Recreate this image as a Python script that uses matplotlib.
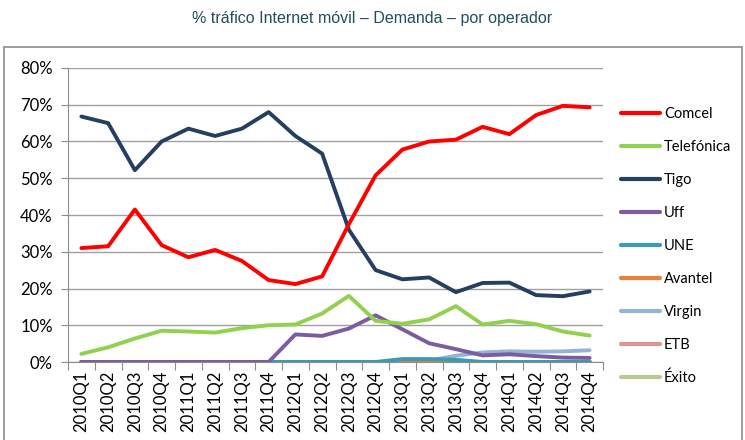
import numpy as np
import matplotlib
matplotlib.use('Agg')
from matplotlib import pyplot as plt
from matplotlib.patches import Rectangle
from matplotlib.ticker import FixedLocator, PercentFormatter

plt.rcParams['font.family'] = ['Lato', 'DejaVu Sans']

quarters = ['2010Q1', '2010Q2', '2010Q3', '2010Q4', '2011Q1', '2011Q2', '2011Q3', '2011Q4',
            '2012Q1', '2012Q2', '2012Q3', '2012Q4', '2013Q1', '2013Q2', '2013Q3', '2013Q4',
            '2014Q1', '2014Q2', '2014Q3', '2014Q4']

comcel = [31, 31.5, 41.5, 31.8, 28.5, 30.5, 27.5, 22.3, 21.2, 23.3,
          37.5, 50.8, 57.8, 60, 60.5, 64, 62, 67.2, 69.7, 69.3]
telefonica = [2.2, 4, 6.4, 8.5, 8.3, 8, 9.2, 10, 10.2, 13.2,
              18, 11.2, 10.4, 11.6, 15.2, 10.2, 11.2, 10.3, 8.3, 7.2]
tigo = [66.8, 65, 52.2, 60, 63.5, 61.5, 63.5, 68, 61.5, 56.7,
        36, 25, 22.5, 23, 19, 21.5, 21.6, 18.2, 17.9, 19.2]
uff = [0, 0, 0, 0, 0, 0, 0, 0, 7.5, 7.1,
       9.1, 12.7, 8.9, 5.1, 3.5, 1.8, 2.1, 1.6, 1.2, 1.1]
une = [0, 0, 0, 0, 0, 0, 0, 0, 0, 0,
       0, 0, 0.8, 0.8, 0.6, 0, 0, 0, 0, 0]
avantel = [0] * 20
virgin = [0, 0, 0, 0, 0, 0, 0, 0, 0, 0,
          0, 0, 0, 0.4, 1.7, 2.6, 2.9, 2.8, 2.9, 3.2]
etb = [0] * 20
exito = [0] * 20

series = [('Comcel', comcel, '#FF0000'),
          ('Telefónica', telefonica, '#92D050'),
          ('Tigo', tigo, '#243F60'),
          ('Uff', uff, '#7B5C9E'),
          ('UNE', une, '#3A9BB3'),
          ('Avantel', avantel, '#E8823A'),
          ('Virgin', virgin, '#95B3D7'),
          ('ETB', etb, '#D99694'),
          ('Éxito', exito, '#B5CC8E')]

fig = plt.figure(figsize=(7.45, 4.40), dpi=100)
fig.text(0.5, 0.958, '% tráfico Internet móvil – Demanda – por operador',
         ha='center', va='center', fontsize=11.5, color='#1F4F5F',
         family=['Liberation Sans', 'DejaVu Sans'])
fig.patches.append(Rectangle((4 / 745, -0.2), 738 / 745, 0.2 + 1 - 47 / 440,
                             transform=fig.transFigure, fill=False,
                             edgecolor='#8C8C8C', linewidth=1.2))

ax = fig.add_axes([68 / 745, 1 - 362 / 440, 535 / 745, 294 / 440])
x = np.arange(len(quarters))
# draw in reverse so Comcel ends up on top
for name, vals, col in reversed(series):
    ax.plot(x, vals, color=col, linewidth=2.8, label=name, solid_capstyle='round')

ax.set_xlim(-0.5, len(quarters) - 0.5)
ax.set_ylim(0, 80)
ax.yaxis.set_major_locator(FixedLocator(np.arange(0, 81, 10)))
ax.yaxis.set_major_formatter(PercentFormatter(decimals=0))
ax.grid(axis='y', color='#A0A0A0', linewidth=1)
ax.set_axisbelow(True)

ax.set_xticks(np.arange(-0.5, len(quarters), 1))
ax.set_xticklabels([])
ax.set_xticks(x, minor=True)
ax.set_xticklabels(quarters, minor=True, rotation=90, fontsize=12)
ax.tick_params(axis='x', which='minor', length=0, pad=6)
ax.tick_params(axis='x', which='major', length=6, color='#8C8C8C', direction='out')
ax.tick_params(axis='y', length=5, color='#8C8C8C', labelsize=12, pad=6)

for s in ['top', 'right']:
    ax.spines[s].set_visible(False)
for s in ['left', 'bottom']:
    ax.spines[s].set_color('#8C8C8C')

handles, labels = ax.get_legend_handles_labels()
leg = fig.legend(handles[::-1], labels[::-1], loc='upper left',
                 bbox_to_anchor=(621 / 745, 1 - 107 / 440), frameon=False,
                 fontsize=10.5, handlelength=2.7, handletextpad=0.25,
                 labelspacing=1.3, borderpad=0, borderaxespad=0)
for h in leg.get_lines():
    h.set_linewidth(3)

fig.savefig('out.png', dpi=100)
